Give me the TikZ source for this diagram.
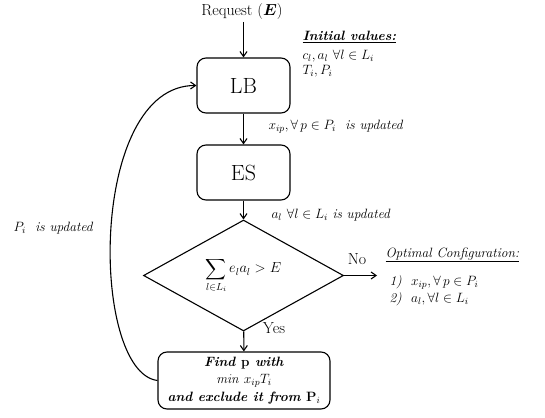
\RequirePackage{fix-cm}
\documentclass[tikz,border=0pt]{standalone}
\usepackage{amsmath,amssymb,bm}
\usetikzlibrary{shapes.geometric,arrows.meta}
\begin{document}
\begin{tikzpicture}[x=1pt,y=-1pt,
  every path/.style={line width=1.1pt},
  conn/.style={-{Straight Barb[length=5pt,width=7pt]},line width=1.1pt},
  procbox/.style={draw,rounded corners=9pt,minimum width=93pt,minimum height=55pt,inner sep=0pt,font=\fontsize{22}{24}\selectfont},
  decision/.style={draw,diamond,minimum width=200pt,minimum height=94pt,inner sep=0pt,font=\fontsize{14.5}{16}\selectfont},
  lbl/.style={inner sep=0pt,anchor=west,font=\fontsize{13.5}{15}\selectfont\itshape},
  lab/.style={inner sep=0pt,font=\fontsize{16}{18}\selectfont}]
\useasboundingbox (0,0) rectangle (545,417);

\node[lab] (req) at (242,12) {Request ($\bm{E}$)};
\node[procbox] (lb) at (243.5,85.5) {LB};
\node[procbox] (es) at (243.5,172.5) {ES};
\node[decision] (dec) at (243.5,275.5) {$\displaystyle\sum_{l\in L_i} e_l a_l > E$};
\node[draw,rounded corners=9pt,minimum width=172pt,minimum height=57pt,inner sep=0pt,
      align=center,font=\fontsize{13.5}{17.5}\selectfont] (fb) at (244,380.5)
  {\textbf{\textit{Find $\bm{\mathrm{p}}$ with}}\\ $\mathit{min}\ x_{ip}T_i$\\ \textbf{\textit{and exclude it from $\bm{\mathrm{P}}_i$}}};

\coordinate (rq) at (243.5,22);
\draw[conn] (rq) -- (lb.north);
\draw[conn] (lb) -- (es);
\draw[conn] (es) -- (dec);
\draw[conn] (dec) -- (fb);
\coordinate (noend) at (377,275.5);
\draw[conn] (dec.east) -- (noend);
\draw[conn] (fb.west) .. controls (90,372) and (88,85) .. (lb.west);

% labels
\node[lbl] (iv) at (302,37) {\textbf{\underline{Initial values:}}};
\node[lbl] (iv1) at (302,56) {$c_l, a_l\ \forall l \in L_i$};
\node[lbl] (iv2) at (302,71) {$T_i, P_i$};
\node[lbl] (u1) at (268,127) {$x_{ip},\forall\, p \in P_i$\ \ is updated};
\node[lbl] (u2) at (271,215) {$a_l\ \forall l \in L_i$ is updated};
\node[lab] (no) at (357,259) {No};
\node[lab] (yes) at (274,328) {Yes};
\node[lbl] (oc) at (385,255) {\underline{Optimal Configuration:}};
\node[lbl] (oc1) at (389,282) {1)\ \ $x_{ip},\forall\, p \in P_i$};
\node[lbl] (oc2) at (389,299) {2)\ \ $a_l,\forall l \in L_i$};
\node[lbl] (pu) at (13,228) {$P_i$\ \ is updated};
\end{tikzpicture}
\end{document}
